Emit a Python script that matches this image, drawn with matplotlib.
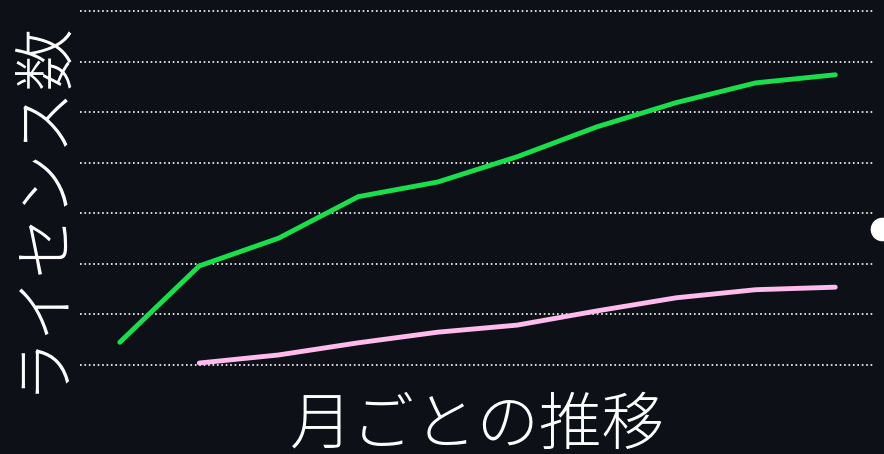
import matplotlib.pyplot as plt
from matplotlib.lines import Line2D

plt.rcParams['font.family'] = ['Noto Sans CJK JP', 'DejaVu Sans']

# monthly license counts
months = list(range(10))
green_vals = [45, 196, 251, 333, 362, 412, 471, 519, 558, 574]
pink_months = months[1:]
pink_vals = [4, 20, 44, 65, 79, 107, 133, 149, 154]
grid_ticks = [0, 100, 200, 300, 400, 500, 600, 700]

bg = "#0d1117"
green = "#1ade4c"
pink = "#ffbbee"

fig = plt.figure(figsize=(8.84, 4.54), dpi=100, facecolor=bg)
ax = fig.add_axes([80/884, 1 - 405/454, 795/884, 400/454])
ax.set_facecolor(bg)

ax.plot(months, green_vals, color=green, linewidth=3.5, solid_capstyle='round')
ax.plot(pink_months, pink_vals, color=pink, linewidth=3.5, solid_capstyle='round')

ax.set_xlim(-0.5, 9.5)
ax.set_ylim(-79, 712)
ax.set_yticks(grid_ticks)
ax.set_xticks([])
ax.tick_params(axis='y', length=0, labelleft=False)
ax.grid(axis='y', color='white', linestyle=':', linewidth=1.2)
for s in ax.spines.values():
    s.set_visible(False)

ax.set_ylabel("ライセンス数", fontsize=45, color='white', fontweight='light', labelpad=5)
ax.set_xlabel("月ごとの推移", fontsize=45, color='white', fontweight='light', labelpad=-7)

# legend marker sitting on the right edge, mostly cut off
handle = Line2D([], [], marker='o', color='white', linestyle='none', markersize=16)
fig.legend([handle], [' '], loc='center left', bbox_to_anchor=(875/884, 1 - 230/454),
           frameon=False, borderpad=0, borderaxespad=0, handlelength=1, handletextpad=0)

fig.savefig("out.png", dpi=100, facecolor=bg)
